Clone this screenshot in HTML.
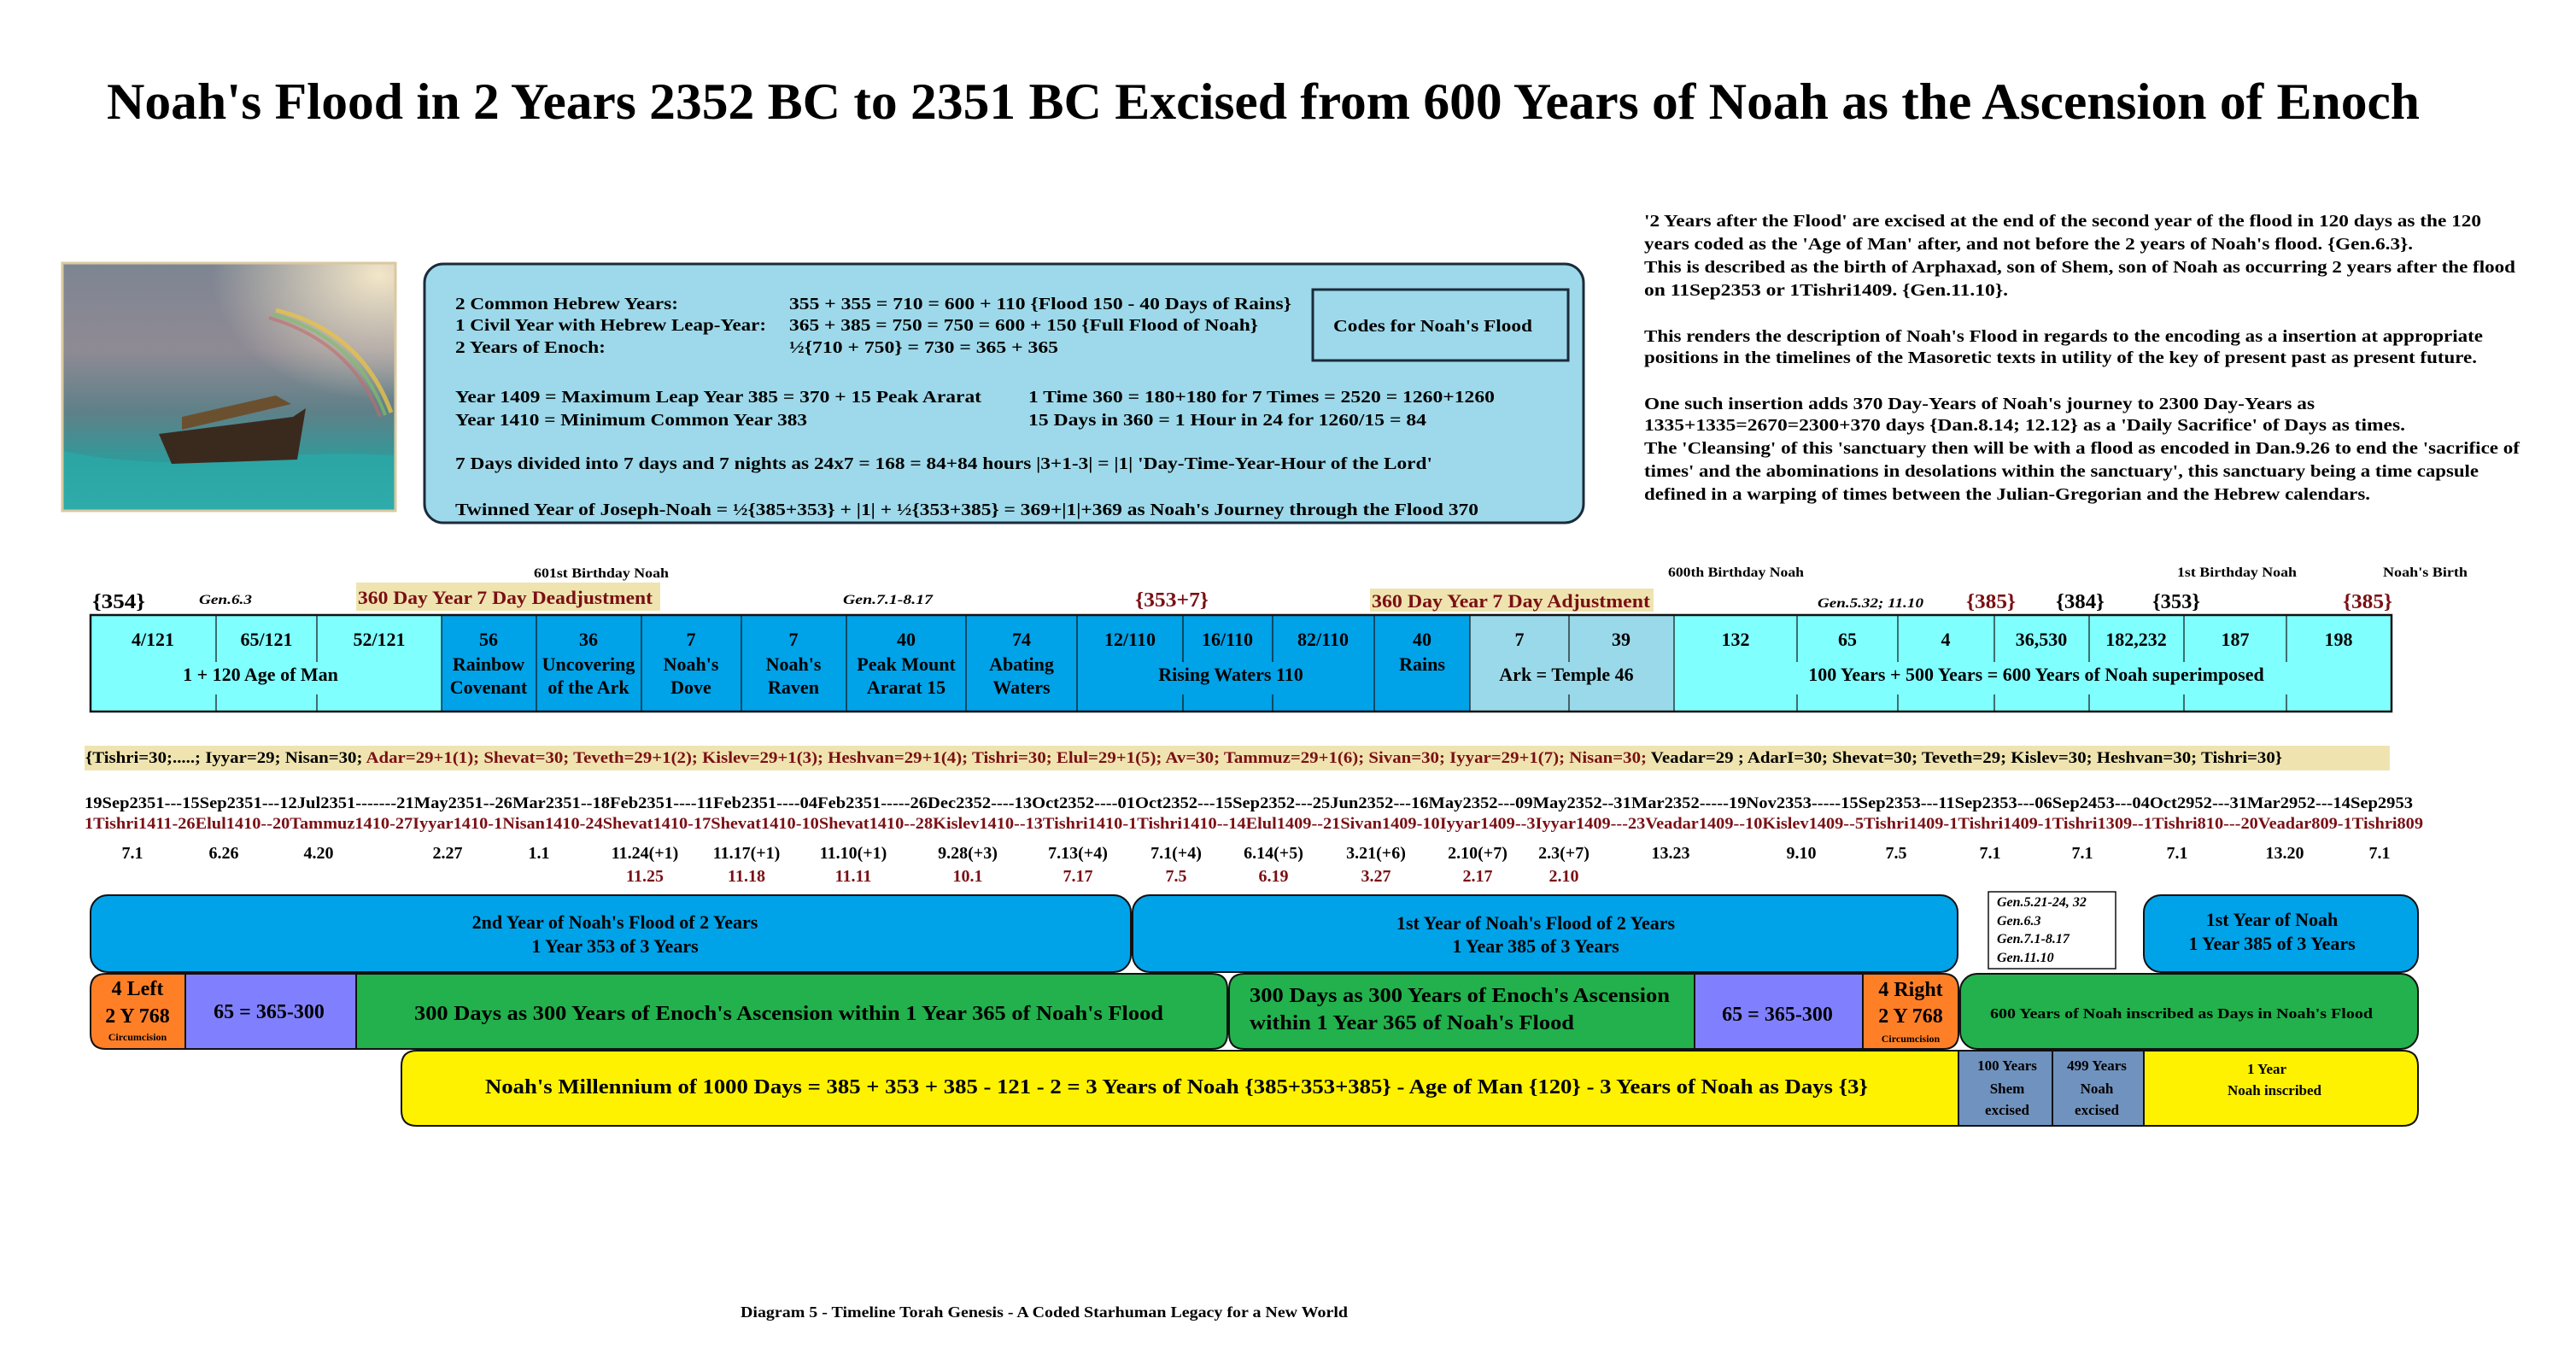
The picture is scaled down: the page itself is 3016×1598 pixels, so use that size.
<!DOCTYPE html>
<html><head><meta charset="utf-8"><style>
html,body{margin:0;padding:0;background:#fff;}
svg{display:block;}
text{font-family:"Liberation Serif","Times New Roman",serif;font-weight:bold;fill:#000;}
.r{fill:#7a0f14;}
.i{font-style:italic;}
</style></head><body>
<svg width="3016" height="1598" viewBox="0 0 3016 1598" xmlns="http://www.w3.org/2000/svg">
<defs>
<linearGradient id="sky" x1="0" y1="0" x2="0" y2="1">
<stop offset="0" stop-color="#7d8592"/><stop offset="0.35" stop-color="#8f8a94"/><stop offset="0.6" stop-color="#5f8088"/><stop offset="0.8" stop-color="#2f9a9a"/><stop offset="1" stop-color="#3fb8b6"/>
</linearGradient>
<radialGradient id="sun" cx="0.95" cy="0.05" r="0.5"><stop offset="0" stop-color="#f3e6c8"/><stop offset="1" stop-color="#f3e6c8" stop-opacity="0"/></radialGradient>
</defs>
<rect width="3016" height="1598" fill="#fff"/>
<text x="125" y="139" font-size="60" textLength="2708" lengthAdjust="spacingAndGlyphs">Noah's Flood in 2 Years 2352 BC to 2351 BC Excised from 600 Years of Noah as the Ascension of Enoch</text>

<g transform="translate(73,308)">
<rect x="0" y="0" width="390" height="290" fill="url(#sky)"/>
<rect x="0" y="0" width="390" height="290" fill="url(#sun)"/>
<path d="M250 55 Q350 80 385 175" fill="none" stroke="#e6c24a" stroke-width="5" opacity="0.8"/>
<path d="M246 60 Q344 86 378 178" fill="none" stroke="#7fbf6a" stroke-width="4" opacity="0.7"/>
<path d="M242 64 Q338 92 372 180" fill="none" stroke="#c46a6a" stroke-width="4" opacity="0.6"/>
<path d="M0 220 Q100 240 200 230 T390 225 V290 H0 Z" fill="#2aa9a8" opacity="0.8"/>
<path d="M113 200 L270 180 L285 170 L275 230 L128 235 Z" fill="#3a2a1e"/>
<path d="M140 180 L250 155 L268 165 L140 195 Z" fill="#6b5030"/>
<rect x="0" y="0" width="390" height="290" fill="none" stroke="#d9c9a0" stroke-width="3"/>
</g>

<rect x="497" y="309" width="1357" height="303" rx="22" fill="#9dd9ea" stroke="#1b2b3a" stroke-width="3"/>
<g font-size="20">
<text x="533" y="362" textLength="261" lengthAdjust="spacingAndGlyphs">2 Common Hebrew Years:</text>
<text x="924" y="362" textLength="588" lengthAdjust="spacingAndGlyphs">355 + 355 = 710 = 600 + 110 {Flood 150 - 40 Days of Rains}</text>
<text x="533" y="387" textLength="364" lengthAdjust="spacingAndGlyphs">1 Civil Year with Hebrew Leap-Year:</text>
<text x="924" y="387" textLength="549" lengthAdjust="spacingAndGlyphs">365 + 385 = 750 = 750 = 600 + 150 {Full Flood of Noah}</text>
<text x="533" y="413" textLength="176" lengthAdjust="spacingAndGlyphs">2 Years of Enoch:</text>
<text x="924" y="413" textLength="315" lengthAdjust="spacingAndGlyphs">½{710 + 750} = 730 = 365 + 365</text>
<text x="533" y="471" textLength="616" lengthAdjust="spacingAndGlyphs">Year 1409 = Maximum Leap Year 385 = 370 + 15 Peak Ararat</text>
<text x="1204" y="471" textLength="546" lengthAdjust="spacingAndGlyphs">1 Time 360 = 180+180 for 7 Times = 2520 = 1260+1260</text>
<text x="533" y="498" textLength="412" lengthAdjust="spacingAndGlyphs">Year 1410 = Minimum Common Year 383</text>
<text x="1204" y="498" textLength="466" lengthAdjust="spacingAndGlyphs">15 Days in 360 =  1 Hour in 24 for 1260/15 = 84</text>
<text x="533" y="549" textLength="1144" lengthAdjust="spacingAndGlyphs">7 Days divided into 7 days and 7 nights as 24x7 =  168 = 84+84 hours  |3+1-3| = |1| 'Day-Time-Year-Hour of the Lord'</text>
<text x="533" y="603" textLength="1198" lengthAdjust="spacingAndGlyphs">Twinned Year of Joseph-Noah = ½{385+353} + |1| +  ½{353+385} = 369+|1|+369  as Noah's Journey through the Flood 370</text>
</g>
<rect x="1537" y="339" width="299" height="83" fill="none" stroke="#1b2b3a" stroke-width="3"/>
<text x="1561" y="388" font-size="20" textLength="233" lengthAdjust="spacingAndGlyphs">Codes for Noah's Flood</text>

<g font-size="20">
<text x="1925" y="265" textLength="980" lengthAdjust="spacingAndGlyphs">'2 Years after the Flood' are excised at the end of the second year of the flood in 120 days as the 120</text>
<text x="1925" y="292" textLength="900" lengthAdjust="spacingAndGlyphs">years coded as the 'Age of Man' after, and not before the 2 years of Noah's flood. {Gen.6.3}.</text>
<text x="1925" y="319" textLength="1020" lengthAdjust="spacingAndGlyphs">This is described as the birth of Arphaxad, son of Shem, son of Noah as occurring 2 years after the flood</text>
<text x="1925" y="346" textLength="426" lengthAdjust="spacingAndGlyphs">on 11Sep2353 or 1Tishri1409. {Gen.11.10}.</text>
<text x="1925" y="400" textLength="982" lengthAdjust="spacingAndGlyphs">This renders the description of Noah's Flood in regards to the encoding as a insertion at appropriate</text>
<text x="1925" y="425" textLength="975" lengthAdjust="spacingAndGlyphs">positions in the timelines of the Masoretic texts in utility of the key of present past as present future.</text>
<text x="1925" y="479" textLength="785" lengthAdjust="spacingAndGlyphs">One such insertion adds 370 Day-Years of Noah's journey to 2300 Day-Years as</text>
<text x="1925" y="504" textLength="891" lengthAdjust="spacingAndGlyphs">1335+1335=2670=2300+370 days {Dan.8.14; 12.12} as a 'Daily Sacrifice' of Days as times.</text>
<text x="1925" y="531" textLength="1025" lengthAdjust="spacingAndGlyphs">The 'Cleansing' of this 'sanctuary then will be with a flood as encoded in Dan.9.26 to end the 'sacrifice of</text>
<text x="1925" y="558" textLength="977" lengthAdjust="spacingAndGlyphs">times' and the abominations in desolations within the sanctuary', this sanctuary being a time capsule</text>
<text x="1925" y="585" textLength="850" lengthAdjust="spacingAndGlyphs">defined in a warping of times between the Julian-Gregorian and the Hebrew calendars.</text>
</g>

<text x="625" y="676" font-size="16" textLength="158" lengthAdjust="spacingAndGlyphs">601st Birthday Noah</text>
<text x="1953" y="675" font-size="16" textLength="159" lengthAdjust="spacingAndGlyphs">600th Birthday Noah</text>
<text x="2549" y="675" font-size="16" textLength="140" lengthAdjust="spacingAndGlyphs">1st Birthday Noah</text>
<text x="2790" y="675" font-size="16" textLength="99" lengthAdjust="spacingAndGlyphs">Noah's Birth</text>
<text x="108" y="712" font-size="24" textLength="62" lengthAdjust="spacingAndGlyphs">{354}</text>
<text x="233" y="707" font-size="16" class="i" textLength="62" lengthAdjust="spacingAndGlyphs">Gen.6.3</text>
<rect x="417" y="682" width="356" height="33" fill="#efe4b0"/>
<text x="419" y="707" font-size="22" class="r" textLength="345" lengthAdjust="spacingAndGlyphs">360 Day Year 7 Day Deadjustment</text>
<text x="987" y="707" font-size="16" class="i" textLength="105" lengthAdjust="spacingAndGlyphs">Gen.7.1-8.17</text>
<text x="1329" y="710" font-size="24" class="r" textLength="86" lengthAdjust="spacingAndGlyphs">{353+7}</text>
<rect x="1604" y="689" width="332" height="27" fill="#efe4b0"/>
<text x="1606" y="711" font-size="22" class="r" textLength="326" lengthAdjust="spacingAndGlyphs">360 Day Year 7 Day Adjustment</text>
<text x="2128" y="711" font-size="16" class="i" textLength="124" lengthAdjust="spacingAndGlyphs">Gen.5.32; 11.10</text>
<text x="2302" y="712" font-size="24" class="r" textLength="58" lengthAdjust="spacingAndGlyphs">{385}</text>
<text x="2407" y="712" font-size="24" textLength="57" lengthAdjust="spacingAndGlyphs">{384}</text>
<text x="2520" y="712" font-size="24" textLength="56" lengthAdjust="spacingAndGlyphs">{353}</text>
<text x="2743" y="712" font-size="24" class="r" textLength="58" lengthAdjust="spacingAndGlyphs">{385}</text>

<g>
<rect x="106" y="720" width="411" height="113" fill="#80ffff"/>
<rect x="517" y="720" width="1092" height="113" fill="#00a2e8"/>
<rect x="1609" y="720" width="112" height="113" fill="#00a2e8"/>
<rect x="1721" y="720" width="239" height="113" fill="#99d9ea"/>
<rect x="1960" y="720" width="840" height="113" fill="#80ffff"/>
<g stroke="#111" stroke-width="1.2">
<line x1="517" y1="720" x2="517" y2="833"/><line x1="628" y1="720" x2="628" y2="833"/><line x1="751" y1="720" x2="751" y2="833"/><line x1="868" y1="720" x2="868" y2="833"/><line x1="991" y1="720" x2="991" y2="833"/><line x1="1131" y1="720" x2="1131" y2="833"/><line x1="1261" y1="720" x2="1261" y2="833"/><line x1="1609" y1="720" x2="1609" y2="833"/><line x1="1721" y1="720" x2="1721" y2="833"/><line x1="1960" y1="720" x2="1960" y2="833"/>
<path d="M253 720V775M253 813V833M371 720V775M371 813V833M1385 720V775M1385 813V833M1490 720V775M1490 813V833M1837 720V775M1837 813V833M2104 720V775M2104 813V833M2222 720V775M2222 813V833M2335 720V775M2335 813V833M2446 720V775M2446 813V833M2557 720V775M2557 813V833M2677 720V775M2677 813V833"/>
</g>
<rect x="106" y="720" width="2694" height="113" fill="none" stroke="#111" stroke-width="2.5"/>
</g>
<g font-size="22" text-anchor="middle">
<text x="179" y="756">4/121</text><text x="312" y="756">65/121</text><text x="444" y="756">52/121</text>
<text x="305" y="797">1 + 120 Age of Man</text>
<text x="572" y="756">56</text><text x="572" y="785">Rainbow</text><text x="572" y="812">Covenant</text>
<text x="689" y="756">36</text><text x="689" y="785">Uncovering</text><text x="689" y="812">of the Ark</text>
<text x="809" y="756">7</text><text x="809" y="785">Noah's</text><text x="809" y="812">Dove</text>
<text x="929" y="756">7</text><text x="929" y="785">Noah's</text><text x="929" y="812">Raven</text>
<text x="1061" y="756">40</text><text x="1061" y="785">Peak Mount</text><text x="1061" y="812">Ararat 15</text>
<text x="1196" y="756">74</text><text x="1196" y="785">Abating</text><text x="1196" y="812">Waters</text>
<text x="1323" y="756">12/110</text><text x="1437" y="756">16/110</text><text x="1549" y="756">82/110</text>
<text x="1441" y="797">Rising Waters 110</text>
<text x="1665" y="756">40</text><text x="1665" y="785">Rains</text>
<text x="1779" y="756">7</text><text x="1898" y="756">39</text>
<text x="1834" y="797">Ark = Temple 46</text>
<text x="2032" y="756">132</text><text x="2163" y="756">65</text><text x="2278" y="756">4</text><text x="2390" y="756">36,530</text><text x="2501" y="756">182,232</text><text x="2617" y="756">187</text><text x="2738" y="756">198</text>
<text x="2384" y="797">100 Years + 500 Years = 600 Years of Noah superimposed</text>
</g>

<rect x="99" y="873" width="2699" height="29" fill="#efe4b0"/>
<text x="100" y="893" font-size="19" textLength="2572" lengthAdjust="spacingAndGlyphs">{Tishri=30;.....; Iyyar=29; Nisan=30; <tspan class="r">Adar=29+1(1); Shevat=30; Teveth=29+1(2); Kislev=29+1(3); Heshvan=29+1(4); Tishri=30; Elul=29+1(5); Av=30; Tammuz=29+1(6); Sivan=30; Iyyar=29+1(7); Nisan=30;</tspan> Veadar=29 ; AdarI=30; Shevat=30; Teveth=29; Kislev=30; Heshvan=30; Tishri=30}</text>

<text x="99" y="946" font-size="19" textLength="2726" lengthAdjust="spacingAndGlyphs">19Sep2351---15Sep2351---12Jul2351-------21May2351--26Mar2351--18Feb2351----11Feb2351----04Feb2351-----26Dec2352----13Oct2352----01Oct2352---15Sep2352---25Jun2352---16May2352---09May2352--31Mar2352-----19Nov2353-----15Sep2353---11Sep2353---06Sep2453---04Oct2952---31Mar2952---14Sep2953</text>
<text x="99" y="970" font-size="19" class="r" textLength="2738" lengthAdjust="spacingAndGlyphs">1Tishri1411-26Elul1410--20Tammuz1410-27Iyyar1410-1Nisan1410-24Shevat1410-17Shevat1410-10Shevat1410--28Kislev1410--13Tishri1410-1Tishri1410--14Elul1409--21Sivan1409-10Iyyar1409--3Iyyar1409---23Veadar1409--10Kislev1409--5Tishri1409-1Tishri1409-1Tishri1309--1Tishri810---20Veadar809-1Tishri809</text>

<g font-size="20" text-anchor="middle">
<text x="155" y="1005">7.1</text><text x="262" y="1005">6.26</text><text x="373" y="1005">4.20</text><text x="524" y="1005">2.27</text><text x="631" y="1005">1.1</text>
<text x="755" y="1005">11.24(+1)</text><text x="874" y="1005">11.17(+1)</text><text x="999" y="1005">11.10(+1)</text><text x="1133" y="1005">9.28(+3)</text><text x="1262" y="1005">7.13(+4)</text><text x="1377" y="1005">7.1(+4)</text><text x="1491" y="1005">6.14(+5)</text>
<text x="1611" y="1005">3.21(+6)</text><text x="1730" y="1005">2.10(+7)</text><text x="1831" y="1005">2.3(+7)</text><text x="1956" y="1005">13.23</text><text x="2109" y="1005">9.10</text><text x="2220" y="1005">7.5</text><text x="2330" y="1005">7.1</text><text x="2438" y="1005">7.1</text><text x="2549" y="1005">7.1</text><text x="2675" y="1005">13.20</text><text x="2786" y="1005">7.1</text>
<text x="755" y="1032" class="r">11.25</text><text x="874" y="1032" class="r">11.18</text><text x="999" y="1032" class="r">11.11</text><text x="1133" y="1032" class="r">10.1</text><text x="1262" y="1032" class="r">7.17</text><text x="1377" y="1032" class="r">7.5</text><text x="1491" y="1032" class="r">6.19</text><text x="1611" y="1032" class="r">3.27</text><text x="1730" y="1032" class="r">2.17</text><text x="1831" y="1032" class="r">2.10</text>
</g>

<g stroke="#111" stroke-width="2">
<rect x="106" y="1048" width="1218" height="90" rx="20" fill="#00a2e8"/>
<rect x="1326" y="1048" width="966" height="90" rx="20" fill="#00a2e8"/>
<rect x="2510" y="1048" width="321" height="90" rx="20" fill="#00a2e8"/>
<rect x="2328" y="1044" width="149" height="90" fill="#fff" stroke-width="1.5"/>
<path d="M124 1140 H217 V1228 H124 Q106 1228 106 1210 V1158 Q106 1140 124 1140 Z" fill="#ff7f27"/>
<rect x="217" y="1140" width="200" height="88" fill="#8080ff"/>
<path d="M417 1140 H1419 Q1437 1140 1437 1158 V1210 Q1437 1228 1419 1228 H417 Z" fill="#22b14c"/>
<path d="M1457 1140 H1984 V1228 H1457 Q1439 1228 1439 1210 V1158 Q1439 1140 1457 1140 Z" fill="#22b14c"/>
<rect x="1984" y="1140" width="197" height="88" fill="#8080ff"/>
<path d="M2181 1140 H2275 Q2293 1140 2293 1158 V1210 Q2293 1228 2275 1228 H2181 Z" fill="#ff7f27"/>
<rect x="2295" y="1140" width="536" height="88" rx="20" fill="#22b14c"/>
<path d="M488 1230 H2293 V1318 H488 Q470 1318 470 1300 V1248 Q470 1230 488 1230 Z" fill="#fff200"/>
<rect x="2293" y="1230" width="110" height="88" fill="#7092be"/>
<rect x="2403" y="1230" width="107" height="88" fill="#7092be"/>
<path d="M2510 1230 H2813 Q2831 1230 2831 1248 V1300 Q2831 1318 2813 1318 H2510 Z" fill="#fff200"/>
</g>
<g text-anchor="middle" font-size="22">
<text x="720" y="1087">2nd Year of Noah's Flood of 2 Years</text>
<text x="720" y="1115">1 Year 353 of 3 Years</text>
<text x="1798" y="1088">1st Year of Noah's Flood of 2 Years</text>
<text x="1798" y="1115">1 Year 385 of 3 Years</text>
<text x="2660" y="1084">1st Year of Noah</text>
<text x="2660" y="1112">1 Year 385 of 3 Years</text>
<text x="161" y="1165" font-size="24">4 Left</text>
<text x="161" y="1197" font-size="24">2 Y 768</text>
<text x="161" y="1218" font-size="12">Circumcision</text>
<text x="315" y="1192" font-size="24">65 = 365-300</text>
<text x="2081" y="1195" font-size="24">65 = 365-300</text>
<text x="2237" y="1166" font-size="24">4 Right</text>
<text x="2237" y="1197" font-size="24">2 Y 768</text>
<text x="2237" y="1220" font-size="12">Circumcision</text>
<text x="2350" y="1253" font-size="17">100 Years</text><text x="2350" y="1280" font-size="17">Shem</text><text x="2350" y="1305" font-size="17">excised</text>
<text x="2455" y="1253" font-size="17">499 Years</text><text x="2455" y="1280" font-size="17">Noah</text><text x="2455" y="1305" font-size="17">excised</text>
<text x="2654" y="1257" font-size="17">1 Year</text>
<text x="2663" y="1282" font-size="17">Noah inscribed</text>
</g>
<text x="485" y="1194" font-size="24" textLength="877" lengthAdjust="spacingAndGlyphs">300 Days as 300 Years of Enoch's Ascension within 1 Year 365 of Noah's Flood</text>
<text x="1463" y="1173" font-size="24" textLength="492" lengthAdjust="spacingAndGlyphs">300 Days as 300 Years of Enoch's Ascension</text>
<text x="1463" y="1205" font-size="24" textLength="380" lengthAdjust="spacingAndGlyphs">within 1 Year 365 of Noah's Flood</text>
<text x="2330" y="1192" font-size="17" textLength="448" lengthAdjust="spacingAndGlyphs">600 Years of Noah inscribed as Days in Noah's Flood</text>
<text x="568" y="1280" font-size="24" textLength="1619" lengthAdjust="spacingAndGlyphs">Noah's Millennium of 1000 Days = 385 + 353 + 385 - 121 - 2 = 3 Years of Noah {385+353+385} - Age of Man {120} - 3 Years of Noah as Days {3}</text>
<g font-size="16" class="i">
<text x="2338" y="1061">Gen.5.21-24, 32</text>
<text x="2338" y="1083">Gen.6.3</text>
<text x="2338" y="1104">Gen.7.1-8.17</text>
<text x="2338" y="1126">Gen.11.10</text>
</g>

<text x="867" y="1542" font-size="18" textLength="711" lengthAdjust="spacingAndGlyphs">Diagram 5 - Timeline Torah Genesis - A Coded Starhuman Legacy for a New World</text>
</svg>
</body></html>
